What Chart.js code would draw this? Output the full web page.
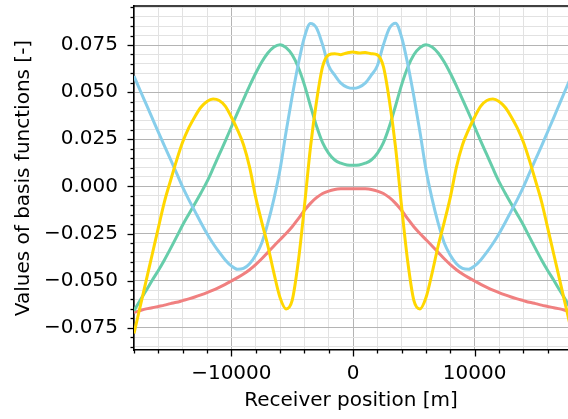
<!DOCTYPE html>
<html>
<head>
<meta charset="utf-8">
<script src="https://cdn.jsdelivr.net/npm/chart.js@4/dist/chart.umd.min.js"></script>
<style>
  body { margin: 0; background: #fff; }
</style>
</head>
<body>
<canvas id="chart1" width="568" height="419"></canvas>
<script>
// receiver positions [m]
let positions = [-18000,-17500,-17000,-16500,-16000,-15500,-15000,-14500,-14000,-13500,-13000,-12500,-12000,-11500,-11000,-10500,-10000,-9500,-9000,-8500,-8000,-7500,-7000,-6500,-6000,-5500,-5000,-4500,-4000,-3500,-3000,-2500,-2000,-1500,-1000,-500,0,
  500,1000,1500,2000,2500,3000,3500,4000,4500,5000,5500,6000,6500,7000,7500,8000,8500,9000,9500,10000,10500,11000,11500,12000,12500,13000,13500,14000,14500,15000,15500,16000,16500,17000,17500,18000]

let redBasis = [-0.0669,-0.0659,-0.0650,-0.0644,-0.0637,-0.0630,-0.0622,-0.0615,-0.0606,-0.0597,-0.0587,-0.0576,-0.0564,-0.0551,-0.0536,-0.0520,-0.0502,-0.0484,-0.0465,-0.0442,-0.0415,-0.0384,-0.0350,-0.0316,-0.0283,-0.0250,-0.0214,-0.0172,-0.0128,-0.0090,-0.0060,-0.0038,-0.0025,-0.0017,-0.0013,-0.0012,-0.0012,
  -0.0012,-0.0013,-0.0017,-0.0025,-0.0038,-0.0060,-0.0090,-0.0128,-0.0172,-0.0214,-0.0250,-0.0283,-0.0316,-0.0350,-0.0384,-0.0415,-0.0442,-0.0465,-0.0484,-0.0502,-0.0520,-0.0536,-0.0551,-0.0564,-0.0576,-0.0587,-0.0597,-0.0606,-0.0615,-0.0622,-0.0630,-0.0637,-0.0644,-0.0650,-0.0659,-0.0669]

let greenBasis = [-0.0660,-0.0605,-0.0552,-0.0498,-0.0446,-0.0390,-0.0330,-0.0268,-0.0205,-0.0148,-0.0092,-0.0035,0.0025,0.0095,0.0168,0.0240,0.0315,0.0390,0.0462,0.0533,0.0600,0.0660,0.0708,0.0740,0.0752,0.0736,0.0698,0.0632,0.0540,0.0428,0.0320,0.0232,0.0175,0.0140,0.0123,0.0114,0.0112,
  0.0114,0.0123,0.0140,0.0175,0.0232,0.0320,0.0428,0.0540,0.0632,0.0698,0.0736,0.0752,0.0740,0.0708,0.0660,0.0600,0.0533,0.0462,0.0390,0.0315,0.0240,0.0168,0.0095,0.0025,-0.0035,-0.0092,-0.0148,-0.0205,-0.0268,-0.0330,-0.0390,-0.0446,-0.0498,-0.0552,-0.0605,-0.0660]

let blueBasis = [0.0585,0.0510,0.0436,0.0362,0.0288,0.0215,0.0143,0.0070,-0.0004,-0.0070,-0.0131,-0.0193,-0.0251,-0.0303,-0.0349,-0.0390,-0.0422,-0.0440,-0.0435,-0.0410,-0.0365,-0.0300,-0.0195,-0.0066,0.0088,0.0290,0.0478,0.0648,0.0790,0.0864,0.0840,0.0751,0.0640,0.0590,0.0548,0.0527,0.0520,
  0.0527,0.0548,0.0590,0.0640,0.0751,0.0840,0.0866,0.0790,0.0648,0.0478,0.0290,0.0088,-0.0066,-0.0195,-0.0300,-0.0365,-0.0410,-0.0435,-0.0440,-0.0422,-0.0390,-0.0349,-0.0303,-0.0251,-0.0193,-0.0131,-0.0070,-0.0004,0.0070,0.0143,0.0215,0.0290,0.0365,0.0442,0.0518,0.0593]

let goldBasis = [-0.0780,-0.0640,-0.0500,-0.0360,-0.0220,-0.0082,0.0030,0.0138,0.0235,0.0310,0.0370,0.0420,0.0451,0.0463,0.0456,0.0426,0.0368,0.0301,0.0221,0.0102,-0.0057,-0.0190,-0.0315,-0.0460,-0.0590,-0.0650,-0.0605,-0.0400,-0.0110,0.0205,0.0450,0.0635,0.0698,0.0704,0.0699,0.0708,0.0713,
  0.0708,0.0710,0.0704,0.0698,0.0635,0.0450,0.0205,-0.0110,-0.0400,-0.0605,-0.0650,-0.0590,-0.0460,-0.0315,-0.0190,-0.0057,0.0102,0.0221,0.0301,0.0368,0.0426,0.0456,0.0463,0.0451,0.0420,0.0370,0.0310,0.0235,0.0138,0.0030,-0.0082,-0.0220,-0.0360,-0.0500,-0.0640,-0.0780]

// tick positions: every value gets a grid line, the major ones get a label
let xTicks = [-18000,-16000,-14000,-12000,-10000,-8000,-6000,-4000,-2000,0,2000,4000,6000,8000,10000,12000,14000,16000]
let xMajorTicks = [-10000, 0, 10000]
let yTicks = [-0.085,-0.08,-0.075,-0.07,-0.065,-0.06,-0.055,-0.05,-0.045,-0.04,-0.035,-0.03,-0.025,-0.02,-0.015,-0.01,-0.005,0,
  0.005,0.01,0.015,0.02,0.025,0.03,0.035,0.04,0.045,0.05,0.055,0.06,0.065,0.07,0.075,0.08,0.085,0.09,0.095]
let yMajorTicks = [-0.075, -0.05, -0.025, 0, 0.025, 0.05, 0.075]

function pts(vals) {
  return vals.map((v, i) => ({x: positions[i], y: v}))
}
function isMajor(list, v) {
  return list.some(m => Math.abs(m - v) < 1e-9)
}
function fmt(v, digits) {
  let s = Math.abs(v).toFixed(digits)
  return v < -1e-12 ? '\u2212' + s : s
}
// drop the extra room chart.js keeps for half labels at the axis ends
function noEdgePadding(s) {
  s.paddingLeft = 0
  s.paddingRight = 0
  s.paddingTop = 0
  s.paddingBottom = 0
}

// top spine + outward tick marks like the original figure
const axisMarks = {
  id: 'axisMarks',
  afterDraw(chart) {
    const {ctx, chartArea: a, scales: {x, y}} = chart
    ctx.save()
    ctx.strokeStyle = '#000'
    ctx.lineWidth = 1.6
    ctx.beginPath()
    ctx.moveTo(a.left - 0.8, a.top)
    ctx.lineTo(a.right, a.top)
    ctx.stroke()
    ctx.lineWidth = 1.3
    x.ticks.forEach(t => {
      let px = Math.round(x.getPixelForValue(t.value)) + 0.5
      let len = isMajor(xMajorTicks, t.value) ? 6.5 : 3.5
      ctx.beginPath()
      ctx.moveTo(px, a.bottom)
      ctx.lineTo(px, a.bottom + len)
      ctx.stroke()
    })
    y.ticks.forEach(t => {
      let py = Math.round(y.getPixelForValue(t.value)) + 0.5
      let len = isMajor(yMajorTicks, t.value) ? 6.5 : 3.5
      ctx.beginPath()
      ctx.moveTo(a.left, py)
      ctx.lineTo(a.left - len, py)
      ctx.stroke()
    })
    ctx.restore()
  }
}

Chart.defaults.font.family = "'DejaVu Sans', sans-serif"
Chart.defaults.color = '#000'

new Chart(document.getElementById('chart1'), {
  type: 'line',
  data: {
    datasets: [
      { label: 'basis 1', data: pts(redBasis), borderColor: '#f08080', order: 3 },
      { label: 'basis 2', data: pts(greenBasis), borderColor: '#66cdaa', order: 2 },
      { label: 'basis 3', data: pts(blueBasis), borderColor: '#87ceeb', order: 1 },
      { label: 'basis 4', data: pts(goldBasis), borderColor: '#ffd700', order: 0 }
    ]
  },
  options: {
    responsive: false,
    animation: false,
    devicePixelRatio: 1,
    layout: { padding: { top: 6, left: 0, right: 0, bottom: 0 } },
    elements: {
      point: { radius: 0 },
      line: { borderWidth: 3, cubicInterpolationMode: 'monotone' }
    },
    plugins: {
      legend: { display: false },
      tooltip: { enabled: false }
    },
    scales: {
      x: {
        type: 'linear',
        min: -18000,
        max: 17670,
        afterBuildTicks: s => { s.ticks = xTicks.map(v => ({value: v})) },
        afterFit: s => { s.height = 69; noEdgePadding(s) },
        border: { color: '#000', width: 1.6 },
        grid: {
          drawTicks: false,
          color: c => isMajor(xMajorTicks, c.tick.value) ? '#b4b4b4' : '#e2e2e2',
          lineWidth: 1
        },
        ticks: {
          autoSkip: false,
          maxRotation: 0,
          padding: 12,
          font: { size: 20 },
          callback: v => isMajor(xMajorTicks, v) ? fmt(v, 0) : ''
        },
        title: {
          display: true,
          text: 'Receiver position [m]',
          font: { size: 20 },
          padding: { top: 0, bottom: 6 }
        }
      },
      y: {
        min: -0.0868,
        max: 0.0957,
        afterBuildTicks: s => { s.ticks = yTicks.map(v => ({value: v})) },
        afterFit: s => { s.width = 134; noEdgePadding(s) },
        border: { color: '#000', width: 1.6 },
        grid: {
          drawTicks: false,
          color: c => isMajor(yMajorTicks, c.tick.value) ? '#b4b4b4' : '#e2e2e2',
          lineWidth: 1
        },
        ticks: {
          autoSkip: false,
          padding: 16,
          font: { size: 20 },
          callback: v => isMajor(yMajorTicks, v) ? fmt(v, 3) : ''
        },
        title: {
          display: true,
          text: 'Values of basis functions [-]',
          font: { size: 20 },
          padding: { top: 12, bottom: 0 }
        }
      }
    }
  },
  plugins: [axisMarks]
})
</script>
</body>
</html>
